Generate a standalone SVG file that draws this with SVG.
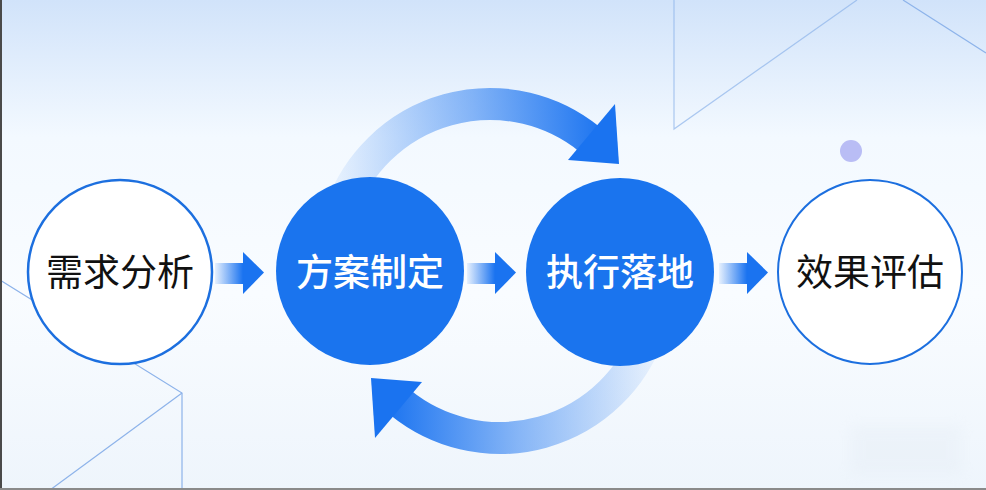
<svg xmlns="http://www.w3.org/2000/svg" width="986" height="490" viewBox="0 0 986 490">
<style>
.label{font-family:"Noto Sans CJK SC","Noto Sans",sans-serif;font-size:37px;text-anchor:middle}
.dark{fill:#111111;font-weight:400}
.light{fill:#ffffff;font-weight:500}
.ring{fill:#ffffff;stroke:#1c6fdf}
.solid{fill:#1a74ee}
.bgline{fill:none;stroke:#8db3ea;stroke-width:1.2}
.head{fill:#1a73f0}
</style>
<defs>
<linearGradient id="bg" x1="0" y1="0" x2="0" y2="1">
<stop offset="0" stop-color="#d1e3fa"/>
<stop offset="0.28" stop-color="#f3f9ff"/>
<stop offset="0.6" stop-color="#f9fcff"/>
<stop offset="1" stop-color="#eef5fc"/>
</linearGradient>
<linearGradient id="bodyGrad" x1="0" y1="0" x2="1" y2="0">
<stop offset="0" stop-color="#1a73f0" stop-opacity="0.08"/>
<stop offset="1" stop-color="#1a73f0" stop-opacity="1"/>
</linearGradient>
<linearGradient id="arcGrad" gradientUnits="userSpaceOnUse" x1="340" y1="0" x2="605" y2="0">
<stop offset="0" stop-color="#1a73f0" stop-opacity="0.08"/>
<stop offset="0.5" stop-color="#1a73f0" stop-opacity="0.5"/>
<stop offset="1" stop-color="#1a73f0" stop-opacity="1"/>
</linearGradient>
<filter id="blur" x="-20%" y="-40%" width="140%" height="180%">
<feGaussianBlur stdDeviation="7"/>
</filter>
<g id="straightArrow">
<rect x="0" y="0" width="28" height="21" fill="url(#bodyGrad)"/>
<polygon points="28,-11 49,9.5 28,31" class="head"/>
</g>
<g id="arcArrow">
<path d="M 341.5 208 A 158 158 0 0 1 589.4 139.2" fill="none" stroke="url(#arcGrad)" stroke-width="32"/>
<polygon points="615,104 619,164 568,160" class="head"/>
</g>
</defs>

<g id="background">
<rect x="0" y="0" width="986" height="490" fill="url(#bg)"/>
<rect x="850" y="425" width="112" height="50" fill="#dfe7f0" opacity="0.25" filter="url(#blur)"/>
<polyline class="bgline" points="674,0 674,129 857,0" stroke-opacity="0.7"/>
<line class="bgline" x1="903" y1="0" x2="986" y2="53"/>
<polyline class="bgline" points="0,280 182,393 182,490"/>
<line class="bgline" x1="182" y1="393" x2="50" y2="490"/>
<circle cx="851" cy="151" r="11" fill="#b9bdf5"/>
<rect x="0" y="0" width="2" height="490" fill="#4a4a4a"/>
<rect x="0" y="488" width="986" height="2" fill="#8a8a8a"/>
</g>

<g id="connectors">
<use href="#arcArrow"/>
<use href="#arcArrow" transform="rotate(180 495 271)"/>
<use href="#straightArrow" transform="translate(215 263)"/>
<use href="#straightArrow" transform="translate(467 263)"/>
<use href="#straightArrow" transform="translate(719 263)"/>
</g>

<g id="node-1">
<circle class="ring" cx="120" cy="272" r="92" stroke-width="2.5"/>
<text class="label dark" x="120" y="286">需求分析</text>
</g>
<g id="node-2">
<circle class="solid" cx="370" cy="271" r="94"/>
<text class="label light" x="370" y="286">方案制定</text>
</g>
<g id="node-3">
<circle class="solid" cx="620" cy="272" r="94"/>
<text class="label light" x="620" y="286">执行落地</text>
</g>
<g id="node-4">
<circle class="ring" cx="870" cy="272" r="92" stroke-width="2"/>
<text class="label dark" x="870" y="286">效果评估</text>
</g>
</svg>
